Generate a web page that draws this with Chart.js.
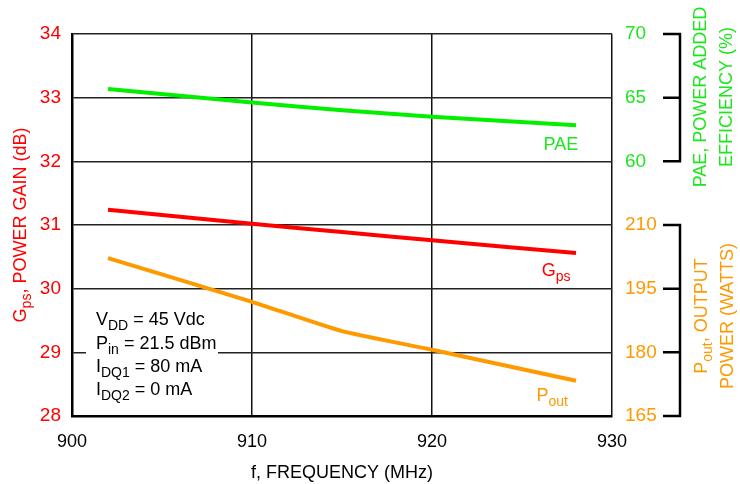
<!DOCTYPE html>
<html>
<head>
<meta charset="utf-8">
<script src="https://cdn.jsdelivr.net/npm/chart.js@4.4.1/dist/chart.umd.min.js"></script>
<style>
  html, body { margin: 0; padding: 0; background: #fff; }
  #wrap { width: 740px; height: 484px; }
</style>
</head>
<body>
<div id="wrap"><canvas id="c" width="740" height="484"></canvas></div>
<script>
// frequency points (MHz)
const freq = [902, 910, 915, 920, 928];
// power gain Gps (dB)
const gps = [31.24, 31.02, 30.89, 30.76, 30.56];
// power added efficiency (%)
const pae = [65.68, 64.62, 64.02, 63.50, 62.83];
// output power (W)
const pout = [202.2, 191.9, 185.0, 180.6, 173.3];

const gainTicks = [28, 29, 30, 31, 32, 33, 34];
const paeTicks = [60, 65, 70];
const poutTicks = [165, 180, 195, 210];

const FONT = '"Liberation Sans Narrow", "Liberation Sans", Arial, sans-serif';
const RED = '#ff0000';
const GREEN = '#1ee61e';
const ORANGE = '#ff9900';

const toXY = (ys) => freq.map((f, i) => ({ x: f, y: ys[i] }));

// draw text with subscripts: parts = [[text, isSub], ...]
function richText(ctx, parts, x, y, size, color, align) {
  const big = size + 'px ' + FONT;
  const small = Math.round(size * 0.78) + 'px ' + FONT;
  let w = 0;
  parts.forEach(p => { ctx.font = p[1] ? small : big; w += ctx.measureText(p[0]).width; });
  let cx = align === 'center' ? x - w / 2 : x;
  ctx.fillStyle = color;
  ctx.textAlign = 'left';
  ctx.textBaseline = 'alphabetic';
  parts.forEach(p => {
    ctx.font = p[1] ? small : big;
    ctx.fillText(p[0], cx, p[1] ? y + size * 0.28 : y);
    cx += ctx.measureText(p[0]).width;
  });
}

function rotated(ctx, parts, cx, cy, size, color) {
  ctx.save();
  ctx.translate(cx, cy);
  ctx.rotate(-Math.PI / 2);
  richText(ctx, parts, 0, size * 0.35, size, color, 'center');
  ctx.restore();
}

const decorations = {
  id: 'decorations',
  afterDraw(chart) {
    const ctx = chart.ctx;
    const sx = chart.scales.x, sy = chart.scales.y;
    const sp = chart.scales.yPae, so = chart.scales.yPout;

    // brackets on the right side
    ctx.save();
    ctx.strokeStyle = '#000';
    ctx.lineWidth = 2.5;
    const bx = 680, tx = 663;
    [[sp, paeTicks], [so, poutTicks]].forEach(([s, t]) => {
      const top = s.getPixelForValue(t[t.length - 1]);
      const bot = s.getPixelForValue(t[0]);
      ctx.beginPath();
      ctx.moveTo(bx, top); ctx.lineTo(bx, bot);
      t.forEach(v => {
        const py = s.getPixelForValue(v);
        ctx.moveTo(tx, py); ctx.lineTo(bx + 1.2, py);
      });
      ctx.stroke();
    });
    ctx.restore();

    // axis titles
    rotated(ctx, [['G', false], ['ps', true], [', POWER GAIN (dB)', false]], 20, 225, 18, RED);
    rotated(ctx, [['PAE, POWER ADDED', false]], 700, 97, 18, GREEN);
    rotated(ctx, [['EFFICIENCY (%)', false]], 726, 97, 18, GREEN);
    rotated(ctx, [['P', false], ['out', true], [', OUTPUT', false]], 701, 316, 18, ORANGE);
    rotated(ctx, [['POWER (WATTS)', false]], 727, 316, 18, ORANGE);

    // series labels
    richText(ctx, [['PAE', false]], sx.getPixelForValue(926.2), sp.getPixelForValue(60.9), 18, GREEN);
    richText(ctx, [['G', false], ['ps', true]], sx.getPixelForValue(926.1), sy.getPixelForValue(30.2), 18, RED);
    richText(ctx, [['P', false], ['out', true]], sx.getPixelForValue(925.8), so.getPixelForValue(168.5), 18, ORANGE);

    // conditions box
    ctx.save();
    ctx.fillStyle = '#fff';
    ctx.fillRect(86, 302, 132, 100);
    ctx.restore();
    const lx = 96;
    richText(ctx, [['V', false], ['DD', true], [' = 45 Vdc', false]], lx, 325, 18, '#000');
    richText(ctx, [['P', false], ['in', true], [' = 21.5 dBm', false]], lx, 349, 18, '#000');
    richText(ctx, [['I', false], ['DQ1', true], [' = 80 mA', false]], lx, 372, 18, '#000');
    richText(ctx, [['I', false], ['DQ2', true], [' = 0 mA', false]], lx, 395, 18, '#000');
  }
};

new Chart(document.getElementById('c'), {
  type: 'line',
  data: {
    datasets: [
      { label: 'PAE', data: toXY(pae), yAxisID: 'yPae', borderColor: '#00f000', borderWidth: 4, pointRadius: 0, tension: 0.2 },
      { label: 'Gps', data: toXY(gps), yAxisID: 'y', borderColor: RED, borderWidth: 4, pointRadius: 0, tension: 0.2 },
      { label: 'Pout', data: toXY(pout), yAxisID: 'yPout', borderColor: ORANGE, borderWidth: 4, pointRadius: 0, tension: 0.15 }
    ]
  },
  options: {
    responsive: false,
    animation: false,
    events: [],
    layout: { padding: { top: 34, left: 0, right: 0, bottom: 0 } },
    plugins: { legend: { display: false }, tooltip: { enabled: false } },
    scales: {
      x: {
        type: 'linear', min: 900, max: 930,
        ticks: { stepSize: 10, color: '#000', padding: 15, font: { family: FONT, size: 18 } },
        grid: { color: '#111', lineWidth: 1.5, drawTicks: false },
        border: { color: '#000', width: 2.5 },
        title: { display: true, text: 'f, FREQUENCY (MHz)', color: '#000', padding: { top: 4, bottom: 0 }, font: { family: FONT, size: 18 } },
        afterFit(s) { s.height = 68; }
      },
      y: {
        position: 'left', min: 28, max: 34,
        afterBuildTicks(s) { s.ticks = gainTicks.map(v => ({ value: v })); },
        ticks: { color: RED, padding: 11, font: { family: FONT, size: 19 } },
        grid: { color: '#222', lineWidth: 1.5, drawTicks: false },
        border: { color: '#000', width: 2.5 },
        afterFit(s) { s.width = 72; }
      },
      yPae: {
        position: 'right', stack: 'right', stackWeight: 1, min: 55, max: 70,
        afterBuildTicks(s) { s.ticks = paeTicks.map(v => ({ value: v })); },
        ticks: { color: GREEN, padding: 13, font: { family: FONT, size: 19 } },
        grid: { display: false, drawTicks: false },
        border: { display: false },
        afterFit(s) { s.width = 128; }
      },
      yPout: {
        position: 'right', stack: 'right', stackWeight: 1, min: 165, max: 210,
        afterBuildTicks(s) { s.ticks = poutTicks.map(v => ({ value: v })); },
        ticks: { color: ORANGE, padding: 13, font: { family: FONT, size: 19 } },
        grid: { display: false, drawTicks: false },
        border: { display: false },
        afterFit(s) { s.width = 128; }
      }
    }
  },
  plugins: [decorations]
});
</script>
</body>
</html>
